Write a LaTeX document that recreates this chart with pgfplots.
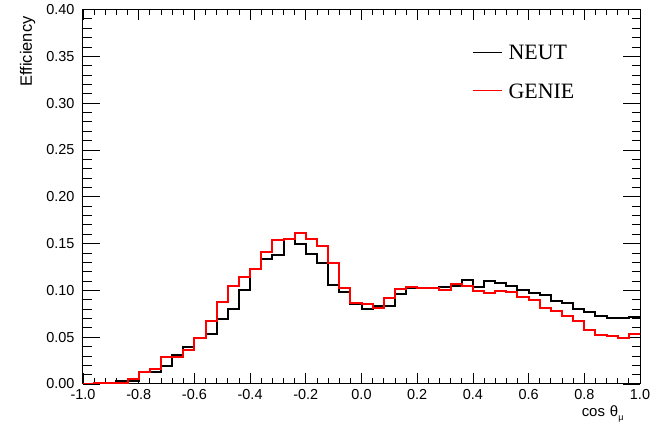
\documentclass[border=0pt]{standalone}
\usepackage{fontspec}
\setmainfont{Liberation Sans}
\newfontfamily\timesfont{Liberation Serif}
\usepackage{pgfplots}
\usepackage{pgfplotstable}
\pgfplotsset{compat=1.18}

\pgfplotstableread{
x neut genie
-1.00 0.000 0.000
-0.96 0.000 0.001
-0.92 0.000 0.001
-0.88 0.003 0.001
-0.84 0.003 0.005
-0.80 0.0127 0.0127
-0.76 0.0127 0.0155
-0.72 0.0187 0.0287
-0.68 0.0315 0.0287
-0.64 0.040 0.0365
-0.60 0.049 0.049
-0.56 0.0537 0.0668
-0.52 0.0697 0.088
-0.48 0.080 0.1046
-0.44 0.1007 0.114
-0.40 0.123 0.123
-0.36 0.133 0.1415
-0.32 0.138 0.1535
-0.28 0.155 0.1545
-0.24 0.150 0.1615
-0.20 0.139 0.155
-0.16 0.1295 0.147
-0.12 0.106 0.129
-0.08 0.098 0.103
-0.04 0.0855 0.087
0.00 0.0805 0.085
0.04 0.083 0.0815
0.08 0.083 0.092
0.12 0.0957 0.102
0.16 0.1025 0.104
0.20 0.103 0.103
0.24 0.103 0.103
0.28 0.104 0.1007
0.32 0.105 0.107
0.36 0.1107 0.105
0.40 0.1036 0.099
0.44 0.1096 0.097
0.48 0.108 0.099
0.52 0.105 0.098
0.56 0.100 0.093
0.60 0.0975 0.090
0.64 0.0946 0.0815
0.68 0.089 0.078
0.72 0.087 0.0725
0.76 0.080 0.067
0.80 0.077 0.058
0.84 0.0725 0.052
0.88 0.070 0.051
0.92 0.070 0.049
0.96 0.072 0.053
1.00 0.072 0.053
}\histdata

\begin{document}
\begin{tikzpicture}
\path[use as bounding box] (-83bp,-42bp) rectangle (567bp,384bp);
\begin{axis}[
  scale only axis,
  width=557bp, height=374.5bp,
  xmin=-1, xmax=1, ymin=0, ymax=0.4,
  xtick={-1,-0.8,-0.6,-0.4,-0.2,0,0.2,0.4,0.6,0.8,1},
  ytick={0,0.05,0.10,0.15,0.20,0.25,0.30,0.35,0.40},
  minor x tick num=4,
  minor y tick num=4,
  tick pos=both,
  tick align=inside,
  xtick style={black, line width=0.8bp, /pgfplots/major tick length=11bp, /pgfplots/minor tick length=5.5bp},
  ytick style={black, line width=0.8bp, /pgfplots/major tick length=17bp, /pgfplots/minor tick length=8.5bp},
  axis line style={line width=1bp},
  /pgf/number format/assume math mode=true,
  xticklabel style={/pgf/number format/fixed, /pgf/number format/fixed zerofill, /pgf/number format/precision=1, yshift=-2bp},
  yticklabel style={/pgf/number format/fixed, /pgf/number format/fixed zerofill, /pgf/number format/precision=2, xshift=-5bp},
  tick label style={font=\fontsize{14.5}{16}\selectfont},
  xlabel={cos\hspace{5bp}θ\raisebox{-0.45ex}{\fontsize{9}{9}\selectfont μ}},
  xlabel style={at={(axis description cs:1,0)}, anchor=base east, xshift=-13bp, yshift=-33bp, font=\fontsize{15}{16}\selectfont},
  ylabel={Efficiency},
  ylabel style={at={(axis description cs:0,1)}, anchor=base east, xshift=-3.5bp, yshift=51bp, font=\fontsize{16.5}{17}\selectfont},
  legend style={draw=none, fill=none, at={(axis cs:0.397,0.3626)}, anchor=north west, inner sep=0pt, outer sep=0pt,
    font=\timesfont\fontsize{22}{22}\selectfont, row sep=23.5bp,
    nodes={inner sep=0pt, text height=15bp, text depth=0pt}},
  legend cell align=left,
  legend image code/.code={\draw[#1, line width=1bp] (0bp,0bp) -- (29bp,0bp); \path (35bp,0bp);},
]
\addplot[const plot, black, line width=2bp] table[x=x, y=neut] {\histdata};
\addlegendentry{NEUT}
\addplot[const plot, red, line width=2bp] table[x=x, y=genie] {\histdata};
\addlegendentry{GENIE}
\end{axis}
\end{tikzpicture}
\end{document}
